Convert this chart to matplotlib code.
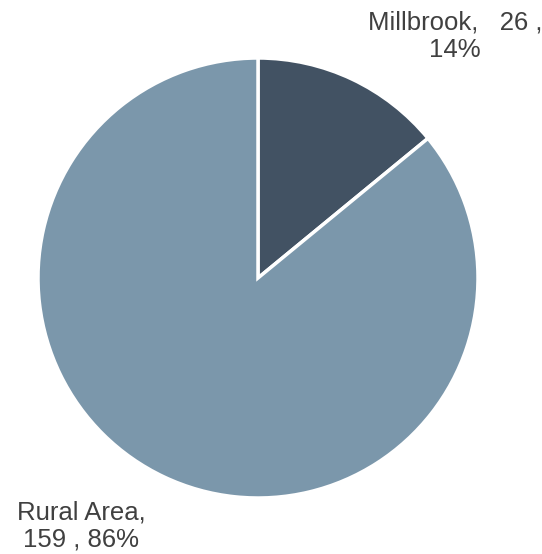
import matplotlib.pyplot as plt

plt.rcParams['font.family'] = ['Liberation Sans', 'DejaVu Sans']

names = ['Millbrook', 'Rural Area']
counts = [26, 159]
colors = ['#425263', '#7b97ab']

total = sum(counts)
pcts = [round(c / total * 100) for c in counts]

fig = plt.figure(figsize=(5.42, 5.54), dpi=100)
ax = fig.add_axes([38 / 542, 56 / 554, 440 / 542, 440 / 554])
ax.pie(counts, colors=colors, startangle=90, counterclock=False,
       wedgeprops=dict(edgecolor='white', linewidth=2.5))
ax.set_xlim(-1, 1)
ax.set_ylim(-1, 1)
ax.set_aspect('auto')
ax.axis('off')

# data labels sit outside the pie
labels = [
    f'{names[0]},   {counts[0]} ,\n{pcts[0]}%',
    f'{names[1]},\n{counts[1]} , {pcts[1]}%',
]
fig.text(455 / 542, 1 - 36 / 554, labels[0], ha='center', va='center',
         fontsize=18.5, color='#404040', linespacing=1.2)
fig.text(81 / 542, 1 - 526 / 554, labels[1], ha='center', va='center',
         fontsize=18.5, color='#404040', linespacing=1.2)

fig.savefig('out.png', dpi=100)
